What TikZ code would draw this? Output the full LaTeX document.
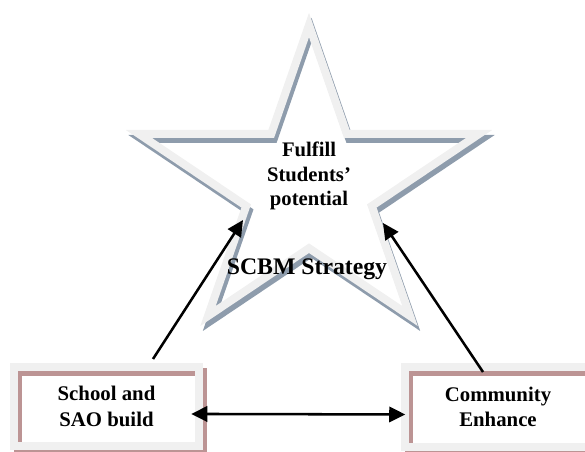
\documentclass[tikz,border=0pt]{standalone}
\usepackage{fontspec}
\setmainfont{Liberation Serif}
\usetikzlibrary{arrows.meta}
\definecolor{bandgray}{RGB}{240,240,240}
\definecolor{starshade}{RGB}{142,156,172}
\definecolor{boxshade}{RGB}{188,148,148}
\begin{document}
\begin{tikzpicture}[x=0.75pt,y=-0.75pt,
  >={Triangle[length=12pt,width=11.5pt]},
  band/.style={draw=bandgray,line width=6pt,line join=miter},
  starshadow/.style={draw=starshade,line width=6pt,line join=miter},
  boxshadow/.style={draw=boxshade,line width=6pt},
  txt/.style={font=\bfseries\fontsize{15.6}{19}\selectfont,align=center,inner sep=0pt},
  boxnode/.style={txt,minimum width=138.75pt,minimum height=59.25pt},
  conn/.style={line width=1.9pt,->}]
\useasboundingbox (0,0) rectangle (585,452);
\clip (0,0) rectangle (585,452);

% five-pointed star: offset shade under a light band
\draw[starshadow,shift={(2.5,5)}] (309,25) -- (346.8,134) -- (479,134) -- (371.8,206)
  -- (410,316) -- (309,248.2) -- (208,316) -- (246.2,206) -- (139,134) -- (271.2,134) -- cycle;
\draw[band] (309,25) -- (346.8,134) -- (479,134) -- (371.8,206)
  -- (410,316) -- (309,248.2) -- (208,316) -- (246.2,206) -- (139,134) -- (271.2,134) -- cycle;

\node[txt,font=\bfseries\fontsize{15.5}{18.4}\selectfont] (goal) at (309,176) {Fulfill\\Students’\\potential};
\node[font=\bfseries\fontsize{17.8}{21}\selectfont,anchor=base,inner sep=0pt] (scbm) at (307,275) {SCBM Strategy};

% the two partner boxes
\node[boxnode] (school) at (106.5,406.5) {School and\\SAO build};
\node[boxnode] (community) at (498,407) {Community\\Enhance};
\foreach \b in {school,community}{
  \draw[boxshadow] ([shift={(4,5)}]\b.north west) rectangle ([shift={(4,5)}]\b.south east);
  \draw[band] (\b.north west) rectangle (\b.south east);
}

% connectors
\coordinate (tailL) at (153,359);
\coordinate (tipL) at (243,220);
\coordinate (tailR) at (483,372);
\coordinate (tipR) at (383,223);
\draw[conn] (tailL) -- (tipL);
\draw[conn] (tailR) -- (tipR);
\draw[conn,<->,shorten <=-6pt] ([yshift=-5.6pt]school.east) -- ([yshift=-5.6pt]community.west);
\end{tikzpicture}
\end{document}
